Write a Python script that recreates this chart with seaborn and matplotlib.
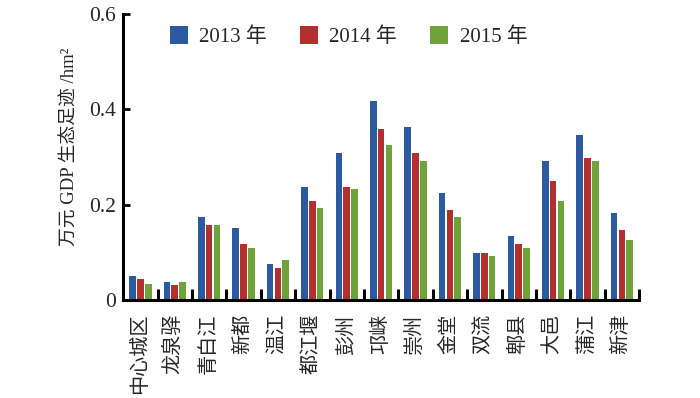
import matplotlib
matplotlib.use("Agg")
import matplotlib.pyplot as plt
import seaborn as sns
import pandas as pd
from matplotlib.ticker import FixedLocator

regions = ["中心城区", "龙泉驿", "青白江", "新都", "温江", "都江堰", "彭州", "邛崃",
           "崇州", "金堂", "双流", "郫县", "大邑", "蒲江", "新津"]
years = ["2013 年", "2014 年", "2015 年"]
v2013 = [0.050, 0.037, 0.175, 0.152, 0.075, 0.238, 0.309, 0.417,
         0.363, 0.224, 0.099, 0.134, 0.291, 0.347, 0.182]
v2014 = [0.044, 0.032, 0.158, 0.117, 0.068, 0.207, 0.238, 0.358,
         0.309, 0.189, 0.099, 0.117, 0.249, 0.298, 0.147]
v2015 = [0.033, 0.037, 0.158, 0.110, 0.085, 0.194, 0.232, 0.326,
         0.291, 0.175, 0.092, 0.110, 0.207, 0.291, 0.127]
colors = ["#2B5AA0", "#B3302E", "#6FA33A"]

rows = []
for y, vals in zip(years, [v2013, v2014, v2015]):
    for r, v in zip(regions, vals):
        rows.append({"region": r, "year": y, "value": v})
df = pd.DataFrame(rows)

sns.set_style("white")
plt.rcParams["font.family"] = ["Liberation Serif", "Noto Sans CJK SC"]

fig = plt.figure(figsize=(7, 3.98), dpi=100)
ax = fig.add_axes([0.176, 0.246, 0.737, 0.719])

sns.barplot(data=df, x="region", y="value", hue="year", order=regions,
            hue_order=years, palette=colors, saturation=1, width=0.68, gap=0.15,
            linewidth=0, ax=ax, legend=True)

ax.set_xlim(-0.5, 14.5)
ax.set_ylim(0, 0.6)
ax.set_yticks([0, 0.2, 0.4, 0.6])
ax.set_yticklabels(["0", "0.2", "0.4", "0.6"], fontsize=15.5)
ax.set_xticks(range(len(regions)))
ax.set_xticklabels(regions, rotation=90, fontsize=14.5, va="top", ha="center")
ax.xaxis.set_minor_locator(FixedLocator([i + 0.5 for i in range(15)]))
ax.tick_params(axis="x", which="major", length=0, pad=10)
ax.tick_params(axis="x", which="minor", direction="in", length=8, width=2.2,
               color="black", bottom=True)
ax.tick_params(axis="y", which="major", direction="in", length=5, width=2,
               color="black", pad=5, left=True)

for s in ["top", "right"]:
    ax.spines[s].set_visible(False)
for s in ["left", "bottom"]:
    ax.spines[s].set_linewidth(2.2)
    ax.spines[s].set_color("black")

ax.set_xlabel("")
ax.set_ylabel("万元 GDP 生态足迹 /hm²", fontsize=13.5, va="center")
ax.yaxis.set_label_coords(-0.103, 0.535)

leg = ax.legend(loc="center", bbox_to_anchor=(0.437, 0.92), ncol=3, frameon=False,
                fontsize=15, handlelength=0.85, handleheight=0.9,
                handletextpad=0.55, columnspacing=1.6)

fig.savefig("out.png", dpi=100)
